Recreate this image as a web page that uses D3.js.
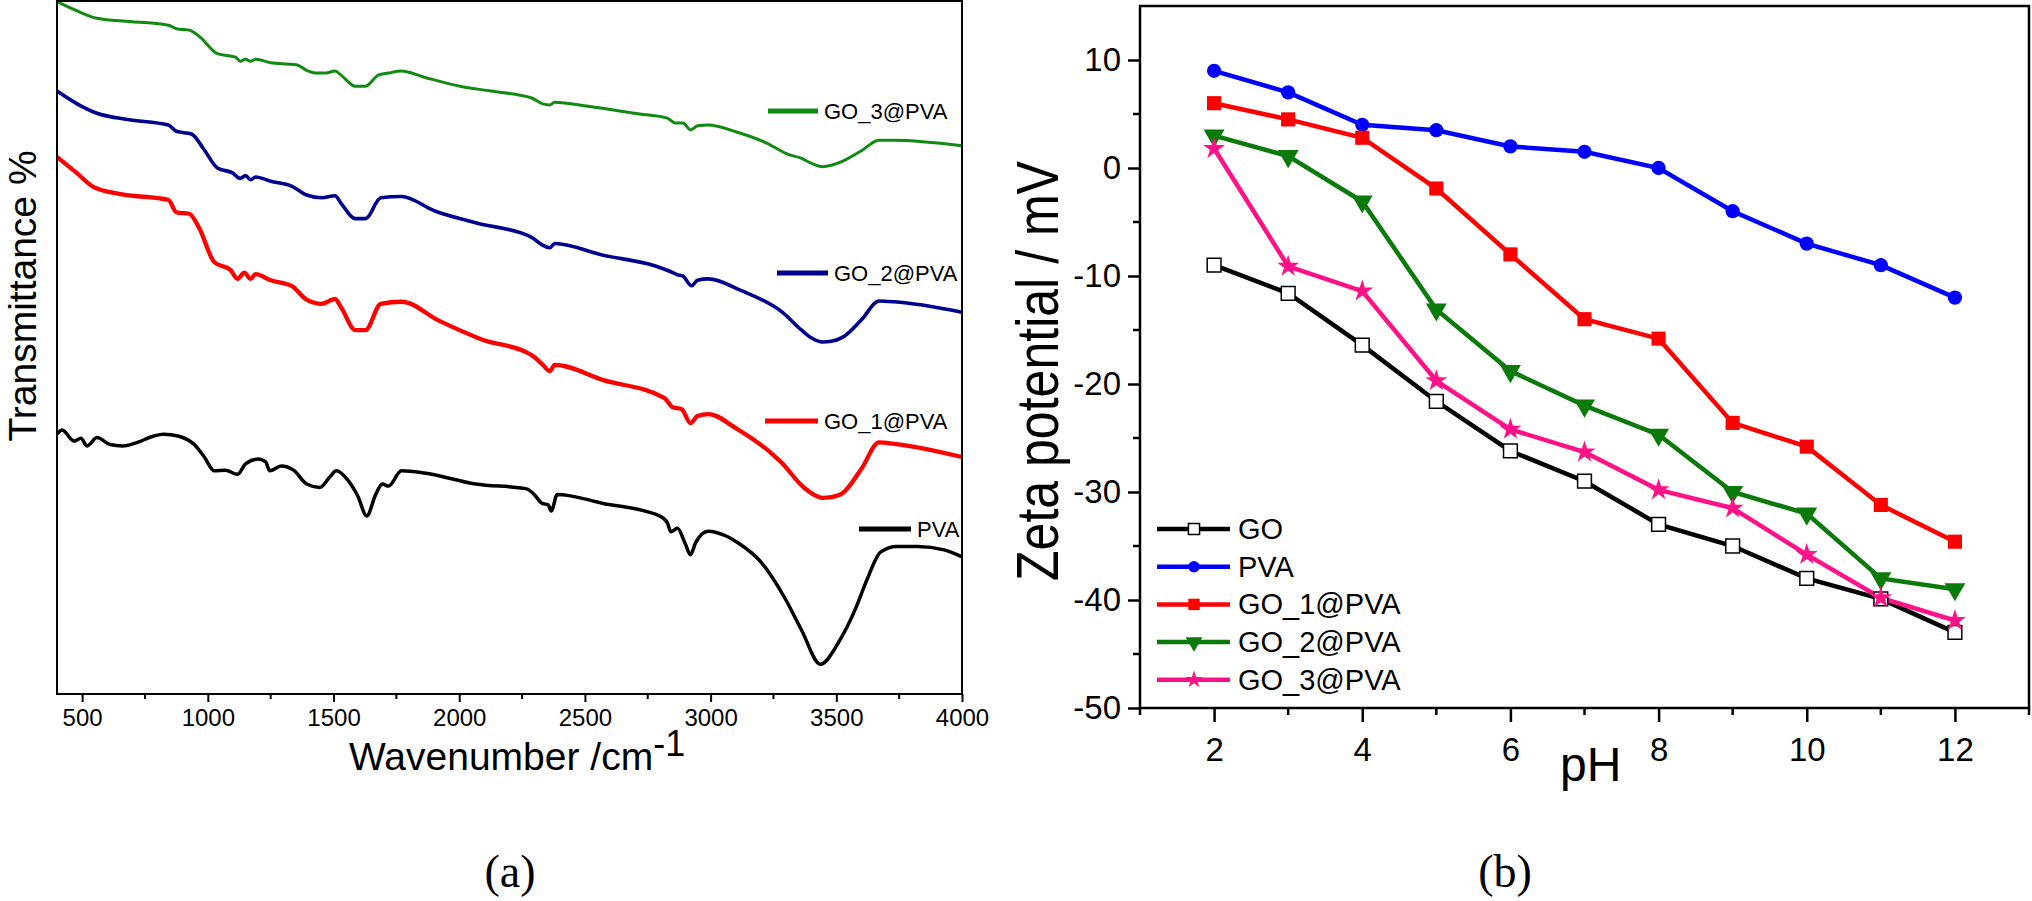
<!DOCTYPE html>
<html>
<head>
<meta charset="utf-8">
<script src="https://cdn.jsdelivr.net/npm/d3@7"></script>
<style>
  body { margin: 0; background: #fff; }
  text { font-family: "Liberation Sans", Arial, sans-serif; fill: #000; }
</style>
</head>
<body>
<div id="chart"></div>
<script>
// ---- panel (a): FTIR spectra, [wavenumber, transmittance a.u.]
var ftirPVA = [[400,37.5],[420,38.1],[468,36.5],[495,36.9],[520,35.8],[559,37.0],[611,36.0],[660,35.8],[711,36.2],
  [783,37.2],[823,37.5],[885,37.2],[946,36.0],[986,34.2],[1026,32.2],[1070,32.3],[1118,31.7],[1150,33.2],[1200,33.9],
  [1230,33.5],[1246,32.2],[1292,32.9],[1341,32.3],[1393,30.3],[1445,29.8],[1485,31.3],[1511,32.2],[1556,30.9],
  [1596,28.6],[1632,25.7],[1668,28.8],[1694,30.3],[1719,30.0],[1770,32.2],[1861,31.9],[2065,30.3],[2268,29.6],
  [2298,28.8],[2330,27.5],[2354,27.3],[2366,26.4],[2390,28.8],[2573,27.5],[2797,25.7],[2828,24.7],[2842,23.4],
  [2868,23.9],[2898,21.8],[2920,20.1],[2940,21.8],[2990,23.5],[3062,22.8],[3110,21.8],[3194,19.3],[3299,13.6],
  [3362,9.2],[3437,4.3],[3508,7.4],[3580,12.6],[3622,16.5],[3677,20.5],[3740,21.3],[3824,21.3],[3929,20.8],[4000,19.8]];

var ftirGO1 = [[400,77.5],[478,75.2],[548,73.1],[660,72.1],[843,71.3],[875,69.5],[926,69.3],[966,67.2],[1026,62.3],
  [1090,61.2],[1118,59.9],[1145,60.8],[1170,59.9],[1190,60.6],[1250,59.7],[1333,58.9],[1393,56.9],[1453,56.3],
  [1506,57.0],[1530,55.8],[1587,52.5],[1627,52.5],[1688,56.3],[1770,56.6],[1923,53.8],[2087,51.2],[2288,48.9],
  [2330,47.6],[2360,46.6],[2380,47.5],[2573,45.3],[2817,42.7],[2848,41.4],[2885,41.1],[2920,39.1],[2948,40.1],
  [2990,40.4],[3103,38.3],[3243,34.7],[3282,33.4],[3362,30.1],[3400,29.0],[3446,28.3],[3480,28.4],[3526,29.0],
  [3600,32.5],[3670,36.3],[3730,36.1],[4000,34.2]];

var ftirGO2 = [[400,87.0],[478,85.2],[559,83.8],[681,82.9],[843,82.1],[875,81.2],[935,80.8],[986,78.5],[1038,75.9],
  [1098,75.2],[1129,74.4],[1150,74.8],[1170,74.2],[1190,74.6],[1250,74.0],[1333,73.3],[1393,72.0],[1453,71.6],
  [1506,71.9],[1530,70.8],[1587,68.6],[1627,68.6],[1688,71.6],[1770,71.8],[1903,69.7],[2065,68.0],[2288,65.9],
  [2330,64.8],[2360,64.4],[2380,65.0],[2573,63.3],[2777,61.8],[2837,61.0],[2868,60.5],[2890,60.3],[2924,58.9],
  [2948,59.7],[2990,59.9],[3123,58.2],[3285,55.1],[3362,52.5],[3400,51.4],[3446,50.8],[3480,50.9],[3526,51.5],
  [3600,54.0],[3670,56.7],[3730,56.6],[4000,55.1]];

var ftirGO3 = [[400,99.9],[478,98.6],[559,97.5],[661,97.1],[843,96.5],[875,96.0],[926,95.8],[966,94.9],[1038,92.4],
  [1110,91.9],[1129,91.3],[1150,91.6],[1170,91.3],[1190,91.6],[1250,91.1],[1312,90.9],[1353,90.8],[1393,90.0],
  [1433,89.6],[1470,89.6],[1506,89.9],[1530,89.3],[1587,87.7],[1627,87.7],[1678,89.3],[1718,89.6],[1770,89.9],
  [1861,89.0],[2003,87.7],[2126,87.0],[2288,86.0],[2330,85.2],[2360,85.0],[2380,85.4],[2513,84.8],[2717,83.7],
  [2828,83.1],[2858,82.4],[2890,82.4],[2920,81.4],[2948,82.0],[2990,82.1],[3103,81.1],[3223,79.5],[3306,77.9],
  [3362,77.3],[3400,76.6],[3446,76.1],[3480,76.3],[3526,76.9],[3600,78.4],[3670,79.9],[3730,79.9],[4000,79.1]];

var wnTicks = [500, 1000, 1500, 2000, 2500, 3000, 3500, 4000];

// ---- panel (b): zeta potential vs pH
var pH = [2, 3, 4, 5, 6, 7, 8, 9, 10, 11, 12];
var zetaGO  = [-9.0, -11.6, -16.4, -21.6, -26.2, -29, -33, -35, -38, -39.9, -43];
var zetaPVA = [9, 7, 4, 3.5, 2, 1.5, 0, -4, -7, -9, -12];
var zetaGO1 = [6, 4.5, 2.8, -1.9, -8, -14, -15.8, -23.6, -25.8, -31.2, -34.6];
var zetaGO2 = [3, 1.1, -3.1, -13.1, -18.8, -22, -24.7, -30, -32, -38, -39];
var zetaGO3 = [1.8, -9.1, -11.4, -19.7, -24.2, -26.3, -29.8, -31.5, -35.8, -39.8, -41.9];
var pHTicks = [2, 4, 6, 8, 10, 12];
var zetaTicks = [-50, -40, -30, -20, -10, 0, 10];

var svg = d3.select("#chart").append("svg")
  .attr("width", 2032)
  .attr("height", 901);

svg.append("rect").attr("width", 2032).attr("height", 901).attr("fill", "#fff");

// ================= panel (a) =================
var a = { left: 57, right: 962, top: 1, bottom: 694 };

var xA = d3.scaleLinear().domain([400, 4000]).range([a.left, a.right]);
var yA = d3.scaleLinear().domain([0, 100]).range([a.bottom, a.top]);

var ftirSeries = [
  { name: "PVA", data: ftirPVA, color: "#000000", width: 3.5, leg: [859, 911, 529] },
  { name: "GO_1@PVA", data: ftirGO1, color: "#ff0000", width: 4.3, leg: [765, 818, 421] },
  { name: "GO_2@PVA", data: ftirGO2, color: "#00008f", width: 3.6, leg: [777, 828, 273] },
  { name: "GO_3@PVA", data: ftirGO3, color: "#108a10", width: 3, leg: [768, 818, 111] }
];

var lineA = d3.line()
  .x(d => xA(d[0]))
  .y(d => yA(d[1]))
  .curve(d3.curveMonotoneX);

var gA = svg.append("g");

ftirSeries.forEach(function(s) {
  gA.append("path")
    .datum(s.data)
    .attr("d", lineA)
    .attr("fill", "none")
    .attr("stroke", s.color)
    .attr("stroke-width", s.width)
    .attr("stroke-linejoin", "round");

  gA.append("line")
    .attr("x1", s.leg[0]).attr("x2", s.leg[1])
    .attr("y1", s.leg[2]).attr("y2", s.leg[2])
    .attr("stroke", s.color)
    .attr("stroke-width", 5);

  gA.append("text")
    .attr("x", s.leg[1] + 6)
    .attr("y", s.leg[2] + 8)
    .attr("font-size", 22)
    .text(s.name);
});

// frame
gA.append("rect")
  .attr("x", a.left).attr("y", a.top)
  .attr("width", a.right - a.left).attr("height", a.bottom - a.top)
  .attr("fill", "none").attr("stroke", "#000").attr("stroke-width", 2);

var axisA = gA.append("g")
  .attr("transform", `translate(0, ${a.bottom})`)
  .call(d3.axisBottom(xA).tickValues(wnTicks).tickSize(8).tickPadding(7).tickFormat(d3.format("d")));
axisA.select(".domain").remove();
axisA.selectAll("line").attr("stroke-width", 2);
axisA.selectAll("text").attr("font-size", 24).attr("font-family", "Liberation Sans, Arial, sans-serif");

gA.append("g")
  .attr("transform", `translate(0, ${a.bottom})`)
  .selectAll("line")
  .data(d3.range(750, 4000, 500))
  .enter().append("line")
  .attr("x1", d => xA(d)).attr("x2", d => xA(d))
  .attr("y1", 0).attr("y2", 5)
  .attr("stroke", "#000").attr("stroke-width", 2);

var wnLabel = gA.append("text")
  .attr("x", 349).attr("y", 770)
  .attr("font-size", 39);
wnLabel.append("tspan").text("Wavenumber /cm");
wnLabel.append("tspan").attr("dy", -14).attr("font-size", 36).text("-1");

gA.append("text")
  .attr("transform", "translate(36, 296) rotate(-90)")
  .attr("text-anchor", "middle")
  .attr("font-size", 39)
  .text("Transmittance %");

svg.append("text")
  .attr("x", 510).attr("y", 887)
  .attr("text-anchor", "middle")
  .attr("font-size", 46)
  .style("font-family", "Liberation Serif, Times New Roman, serif")
  .text("(a)");

// ================= panel (b) =================
var b = { left: 1140, right: 2029, top: 6, bottom: 708 };

var xB = d3.scaleLinear().domain([1, 13]).range([b.left, b.right]);
var yB = d3.scaleLinear().domain([-50, 15]).range([b.bottom, b.top]);

var zetaSeries = [
  { name: "GO", values: zetaGO, color: "#000000", symbol: d3.symbolSquare, size: 190, fill: "#fff", rot: 0 },
  { name: "PVA", values: zetaPVA, color: "#0000ff", symbol: d3.symbolCircle, size: 160, fill: "#0000ff", rot: 0 },
  { name: "GO_1@PVA", values: zetaGO1, color: "#ff0000", symbol: d3.symbolSquare, size: 200, fill: "#ff0000", rot: 0 },
  { name: "GO_2@PVA", values: zetaGO2, color: "#0a7a0a", symbol: d3.symbolTriangle, size: 190, fill: "#0a7a0a", rot: 180 },
  { name: "GO_3@PVA", values: zetaGO3, color: "#ff1188", symbol: d3.symbolStar, size: 150, fill: "#ff1188", rot: 0 }
];

var gB = svg.append("g");

var lineB = d3.line()
  .x((d, i) => xB(pH[i]))
  .y(d => yB(d));

zetaSeries.forEach(function(s) {
  gB.append("path")
    .datum(s.values)
    .attr("d", lineB)
    .attr("fill", "none")
    .attr("stroke", s.color)
    .attr("stroke-width", 4.5);
});

zetaSeries.forEach(function(s) {
  gB.selectAll(null)
    .data(s.values)
    .enter()
    .append("path")
    .attr("d", d3.symbol().type(s.symbol).size(s.size))
    .attr("transform", (d, i) => `translate(${xB(pH[i])}, ${yB(d)}) rotate(${s.rot})`)
    .attr("fill", s.fill)
    .attr("stroke", s.name === "GO" ? "#000" : "none")
    .attr("stroke-width", 1.5);
});

// frame
gB.append("rect")
  .attr("x", b.left).attr("y", b.top)
  .attr("width", b.right - b.left).attr("height", b.bottom - b.top)
  .attr("fill", "none").attr("stroke", "#000").attr("stroke-width", 2.5);

var xAxisB = gB.append("g")
  .attr("transform", `translate(0, ${b.bottom})`)
  .call(d3.axisBottom(xB).tickValues(pHTicks).tickSize(14).tickPadding(16));
xAxisB.select(".domain").remove();
xAxisB.selectAll("line").attr("stroke-width", 2.5);
xAxisB.selectAll("text").attr("font-size", 33).attr("font-family", "Liberation Sans, Arial, sans-serif");

gB.append("g")
  .attr("transform", `translate(0, ${b.bottom})`)
  .selectAll("line")
  .data(d3.range(1, 14, 2))
  .enter().append("line")
  .attr("x1", d => xB(d)).attr("x2", d => xB(d))
  .attr("y1", 0).attr("y2", 7)
  .attr("stroke", "#000").attr("stroke-width", 2.5);

var yAxisB = gB.append("g")
  .attr("transform", `translate(${b.left}, 0)`)
  .call(d3.axisLeft(yB).tickValues(zetaTicks).tickSize(12).tickPadding(7).tickFormat(d3.format("d")));
yAxisB.select(".domain").remove();
yAxisB.selectAll("line").attr("stroke-width", 2.5);
yAxisB.selectAll("text").attr("font-size", 33).attr("font-family", "Liberation Sans, Arial, sans-serif")
  .text(d => String(d).replace("\u2212", "-"));

gB.append("g")
  .attr("transform", `translate(${b.left}, 0)`)
  .selectAll("line")
  .data(d3.range(-45, 15, 10))
  .enter().append("line")
  .attr("x1", -7).attr("x2", 0)
  .attr("y1", d => yB(d)).attr("y2", d => yB(d))
  .attr("stroke", "#000").attr("stroke-width", 2.5);

// legend
var legend = gB.append("g");
zetaSeries.forEach(function(s, i) {
  var ly = 529 + i * 37.7;
  legend.append("line")
    .attr("x1", 1157).attr("x2", 1230)
    .attr("y1", ly).attr("y2", ly)
    .attr("stroke", s.color).attr("stroke-width", 4.5);
  legend.append("path")
    .attr("d", d3.symbol().type(s.symbol).size(s.size * 0.65))
    .attr("transform", `translate(1194, ${ly}) rotate(${s.rot})`)
    .attr("fill", s.fill)
    .attr("stroke", s.name === "GO" ? "#000" : "none")
    .attr("stroke-width", 1.5);
  legend.append("text")
    .attr("x", 1238).attr("y", ly + 10)
    .attr("font-size", 29)
    .text(s.name);
});

gB.append("text")
  .attr("x", 1560).attr("y", 781)
  .attr("font-size", 48)
  .text("pH");

gB.append("text")
  .attr("transform", "translate(1058, 371) rotate(-90)")
  .attr("text-anchor", "middle")
  .attr("font-size", 60)
  .attr("textLength", 420)
  .attr("lengthAdjust", "spacingAndGlyphs")
  .text("Zeta potential / mV");

svg.append("text")
  .attr("x", 1505).attr("y", 887)
  .attr("text-anchor", "middle")
  .attr("font-size", 46)
  .style("font-family", "Liberation Serif, Times New Roman, serif")
  .text("(b)");
</script>
</body>
</html>
